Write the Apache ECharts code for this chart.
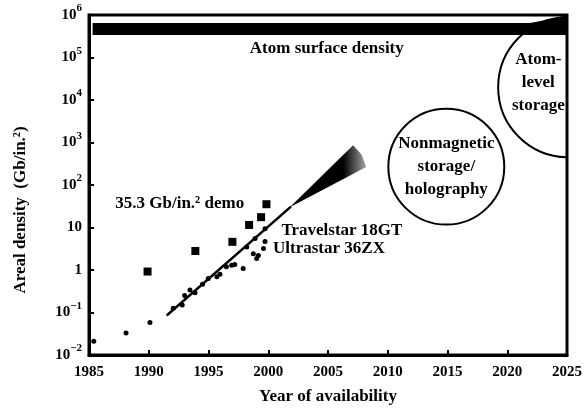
<!DOCTYPE html>
<html>
<head>
<meta charset="utf-8">
<script src="https://cdn.jsdelivr.net/npm/echarts@6/dist/echarts.min.js"></script>
<style>
    html, body { margin: 0; padding: 0; background: #fff; }
    #main { width: 588px; height: 410px; }
</style>
</head>
<body>
<div id="main"></div>
<script>
// demonstrations in the lab (Gb/in.2)
var demoYears = [1989.9, 1993.9, 1997.0, 1998.4, 1999.4, 1999.85];
var demoValues = [0.92, 2.8, 4.6, 11.5, 17.5, 35.3];

// shipped products
var productYears = [1985.4, 1988.1, 1990.1, 1992.05, 1992.8, 1993.0, 1993.45, 1993.87, 1994.5, 1994.98, 1995.7, 1995.96,
    1996.5, 1996.94, 1997.2, 1997.9, 1998.2, 1998.75, 1998.9, 1999.03, 1999.17, 1999.6, 1999.73, 1999.73];
var productValues = [0.021, 0.033, 0.058, 0.126, 0.15, 0.25, 0.34, 0.29, 0.46, 0.63, 0.69, 0.79,
    1.19, 1.3, 1.35, 1.08, 3.5, 2.4, 5.5, 1.87, 2.2, 3.2, 4.7, 9.4];

// trend line and the projected fan after it
var trendYears = [1991.5, 2001.9];
var trendValues = [0.085, 31];
var fanYears = [2001.8, 2007.1, 2007.8, 2008.2];
var fanValues = [30, 860, 520, 265];

// atom surface density band
var bandYears = [1985.3, 2021.9, 2023.5, 2025];
var bandTop = [6.5e5, 6.5e5, 7.8e5, 1e6];
var bandBottom = [3.4e5, 3.4e5, 3.4e5, 3.4e5];

// future technology regions: centre and radius (in years)
var regionYears = [2014.9, 2025.1];
var regionValues = [270, 2e4];
var regionRadii = [4.85, 5.86];

// text notes
var noteTexts = ['Atom surface density', '35.3 Gb/in.\u00b2 demo', 'Travelstar 18GT', 'Ultrastar 36ZX',
    'Nonmagnetic\nstorage/\nholography', 'Atom-\nlevel\nstorage'];
var noteYears = [2004.9, 1987.2, 2001.1, 2000.4, 2014.9, 2022.6];
var noteValues = [1.6e5, 36, 8.4, 3.2, 270, 2.6e4];
var noteAligns = ['center', 'left', 'left', 'left', 'center', 'center'];

var FONT = '"Liberation Serif", "DejaVu Serif", serif';

function zip(xs, ys) {
    return xs.map(function (x, i) { return [x, ys[i]]; });
}

var myChart = echarts.init(document.getElementById('main'));
var option = {
    animation: false,
    grid: {
        left: 89, right: 21, top: 15, bottom: 53,
        show: true, borderColor: '#000', borderWidth: 3
    },
    xAxis: {
        type: 'value', min: 1985, max: 2025, interval: 5,
        name: 'Year of availability', nameLocation: 'middle', nameGap: 33,
        nameTextStyle: { fontFamily: FONT, fontSize: 17, fontWeight: 'bold', color: '#000' },
        axisLine: { lineStyle: { color: '#000', width: 3 } },
        axisTick: { inside: true, length: 5, lineStyle: { color: '#000', width: 2 } },
        axisLabel: {
            fontFamily: FONT, fontSize: 15, fontWeight: 'bold', color: '#000', margin: 10,
            formatter: function (v) { return String(v); }
        },
        splitLine: { show: false }
    },
    yAxis: {
        type: 'log', logBase: 10, min: 0.01, max: 1e6, interval: 1,
        axisLine: { lineStyle: { color: '#000', width: 3 } },
        axisTick: { inside: true, length: 5, lineStyle: { color: '#000', width: 2 } },
        axisLabel: {
            margin: 7,
            formatter: function (v) {
                var e = Math.round(Math.log10(v));
                if (e === 0) return '{b|1}';
                if (e === 1) return '{b|10}';
                return '{b|10}{s|' + (e < 0 ? '\u2212' + (-e) : e) + '}';
            },
            rich: {
                b: { fontFamily: FONT, fontSize: 15, fontWeight: 'bold', color: '#000', lineHeight: 24 },
                s: { fontFamily: FONT, fontSize: 11, fontWeight: 'bold', color: '#000', lineHeight: 12, verticalAlign: 'top' }
            }
        },
        splitLine: { show: false }
    },
    graphic: [{
        type: 'text', x: 21, y: 210, rotation: Math.PI / 2,
        style: {
            text: 'Areal density  (Gb/in.\u00b2)', fill: '#000',
            font: 'bold 17px ' + FONT, textAlign: 'center', textVerticalAlign: 'middle',
            align: 'center', verticalAlign: 'middle'
        }
    }],
    series: [
        {
            // technology regions
            type: 'custom', clip: true, z: 1,
            data: regionYears.map(function (y, i) { return i; }),
            renderItem: function (params, api) {
                var i = params.dataIndex;
                var c = api.coord([regionYears[i], regionValues[i]]);
                var e = api.coord([regionYears[i] + regionRadii[i], regionValues[i]]);
                return {
                    type: 'circle',
                    shape: { cx: c[0], cy: c[1], r: Math.abs(e[0] - c[0]) },
                    style: { fill: 'none', stroke: '#000', lineWidth: 2 }
                };
            }
        },
        {
            // atom surface density band
            type: 'custom', clip: true, z: 3,
            data: [0],
            renderItem: function (params, api) {
                var pts = [];
                for (var i = 0; i < bandYears.length; i++) pts.push(api.coord([bandYears[i], bandTop[i]]));
                for (var j = bandYears.length - 1; j >= 0; j--) pts.push(api.coord([bandYears[j], bandBottom[j]]));
                return { type: 'polygon', shape: { points: pts }, style: { fill: '#000' } };
            }
        },
        {
            // projection fan
            type: 'custom', clip: true, z: 3,
            data: [0],
            renderItem: function (params, api) {
                var pts = fanYears.map(function (y, i) { return api.coord([y, fanValues[i]]); });
                return {
                    type: 'polygon', shape: { points: pts },
                    style: {
                        fill: new echarts.graphic.LinearGradient(0, 0, 1, 0, [
                            { offset: 0, color: '#000' },
                            { offset: 0.7, color: '#000' },
                            { offset: 1, color: 'rgba(0,0,0,0.35)' }
                        ])
                    }
                };
            }
        },
        {
            type: 'line', z: 4,
            data: zip(trendYears, trendValues),
            symbol: 'none',
            lineStyle: { color: '#000', width: 2.5 }
        },
        {
            type: 'scatter', z: 5,
            data: zip(demoYears, demoValues),
            symbol: 'rect', symbolSize: 8,
            itemStyle: { color: '#000', opacity: 1 }
        },
        {
            type: 'scatter', z: 5,
            data: zip(productYears, productValues),
            symbol: 'circle', symbolSize: 5,
            itemStyle: { color: '#000', opacity: 1 }
        },
        {
            // text notes
            type: 'custom', z: 6,
            data: noteTexts.map(function (t, i) { return i; }),
            renderItem: function (params, api) {
                var i = params.dataIndex;
                var p = api.coord([noteYears[i], noteValues[i]]);
                return {
                    type: 'text', x: p[0], y: p[1],
                    style: {
                        text: noteTexts[i], fill: '#000', font: 'bold 17px ' + FONT, lineHeight: 23,
                        textAlign: noteAligns[i], align: noteAligns[i],
                        textVerticalAlign: 'middle', verticalAlign: 'middle'
                    }
                };
            }
        }
    ]
};
myChart.setOption(option);
</script>
</body>
</html>
